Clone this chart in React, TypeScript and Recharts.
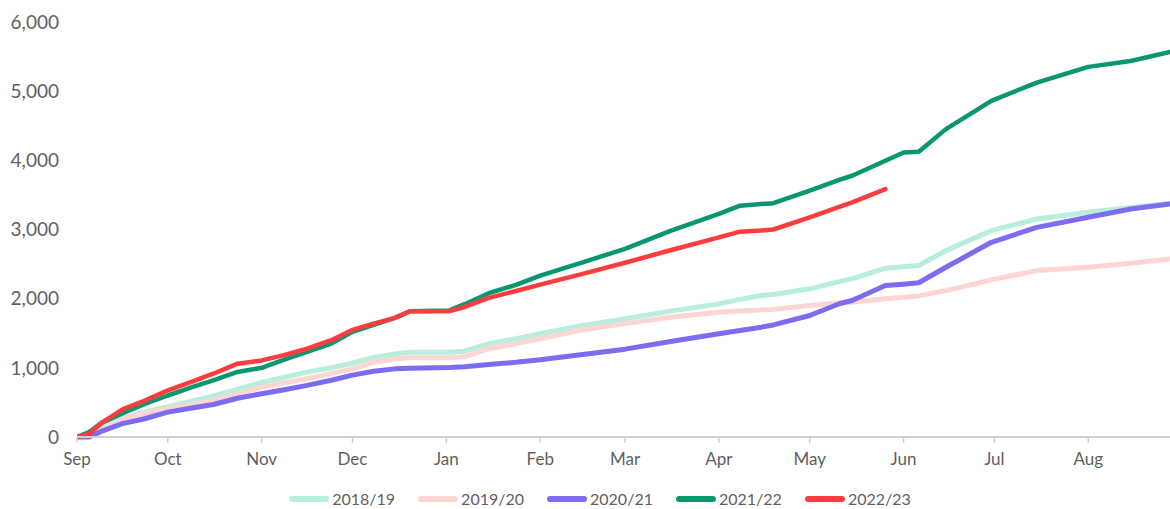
import { LineChart, Line, XAxis, YAxis, Legend } from 'recharts';

// days since 1 September
const days = [
  0, 4, 8, 15, 22, 30, 38, 45, 53, 61, 68, 76, 84, 91, 98, 105, 110, 123, 128, 136, 145,
  153, 167, 181, 196, 212, 219, 226, 230, 242, 252, 256, 267, 273, 278, 287, 302, 317, 334, 348, 361,
];

const season1819 = [
  0, 30, 120, 265, 360, 440, 520, 590, 690, 790, 860, 938, 1000, 1070, 1150, 1200, 1227, 1227, 1240, 1348, 1420,
  1492, 1612, 1709, 1820, 1925, 1990, 2045, 2060, 2142, 2250, 2286, 2440, 2460, 2480, 2695, 2984, 3152, 3248, 3320, 3378,
];
const season1920 = [
  0, 20, 100, 250, 340, 410, 470, 530, 620, 722, 780, 843, 920, 985, 1080, 1130, 1146, 1146, 1160, 1276, 1350,
  1420, 1550, 1640, 1730, 1804, 1820, 1838, 1845, 1901, 1940, 1949, 2000, 2021, 2040, 2117, 2272, 2406, 2454, 2512, 2575,
];
const season2021 = [
  0, 0, 80, 193, 260, 360, 420, 470, 560, 626, 680, 746, 820, 895, 950, 985, 995, 1005, 1015, 1049, 1080,
  1117, 1194, 1270, 1380, 1492, 1540, 1588, 1620, 1757, 1930, 1973, 2190, 2210, 2230, 2454, 2815, 3031, 3176, 3297, 3369,
];
const season2122 = [
  0, 70, 200, 340, 470, 600, 720, 820, 940, 1000, 1110, 1230, 1350, 1520, 1620, 1723, 1819, 1830, 1920, 2079, 2200,
  2334, 2526, 2720, 2980, 3225, 3344, 3369, 3380, 3561, 3720, 3777, 3994, 4114, 4124, 4451, 4860, 5124, 5351, 5437, 5567,
];
// current season, runs to late May
const season2223 = [
  0, 40, 200, 400, 520, 674, 800, 915, 1060, 1107, 1180, 1276, 1400, 1550, 1640, 1723, 1819, 1819, 1880, 2012, 2110,
  2204, 2358, 2520, 2700, 2887, 2969, 2984, 3000, 3176, 3330, 3392, 3585,
];

const monthTicks = [0, 30, 61, 91, 122, 153, 181, 212, 242, 273, 303, 334];
const monthLabels = ['Sep', 'Oct', 'Nov', 'Dec', 'Jan', 'Feb', 'Mar', 'Apr', 'May', 'Jun', 'Jul', 'Aug'];
const yTicks = [0, 1000, 2000, 3000, 4000, 5000, 6000];

const series = [
  { key: 's1819', name: '2018/19', color: '#b8eedb', width: 5, values: season1819 },
  { key: 's1920', name: '2019/20', color: '#fdd5d2', width: 5, values: season1920 },
  { key: 's2021', name: '2020/21', color: '#7b6cf0', width: 5, values: season2021 },
  { key: 's2122', name: '2021/22', color: '#0a9770', width: 4.5, values: season2122 },
  { key: 's2223', name: '2022/23', color: '#fb3d3f', width: 4.5, values: season2223 },
];

const rows = days.map((day, i) => {
  const row: Record<string, number | undefined> = { day };
  series.forEach((s) => {
    row[s.key] = s.values[i];
  });
  return row;
});

const textColor = '#5f5f5f';
const font = 'Lato, "Open Sans", sans-serif';

function LegendContent() {
  return (
    <div style={{ display: 'flex', justifyContent: 'center', gap: 23, paddingLeft: 30, paddingTop: 6 }}>
      {series.map((s) => (
        <div key={s.key} style={{ display: 'flex', alignItems: 'center' }}>
          <span style={{ width: 40, height: 6, borderRadius: 3, background: s.color, display: 'inline-block' }} />
          <span style={{ marginLeft: 3, fontSize: 16, color: textColor, fontFamily: font }}>{s.name}</span>
        </div>
      ))}
    </div>
  );
}

export default function App() {
  return (
    <div style={{ position: 'absolute', left: 0, top: 0, width: 1170, height: 509, background: '#fff' }}>
      <LineChart width={1170} height={509} data={rows} margin={{ top: 22, right: 0, left: 0, bottom: 0 }}>
        <XAxis
          dataKey="day"
          type="number"
          domain={[0, 361]}
          ticks={monthTicks}
          tickFormatter={(v) => monthLabels[monthTicks.indexOf(v)] ?? ''}
          height={46}
          tickSize={6}
          tickMargin={10}
          axisLine={{ stroke: '#d0d0d0', strokeWidth: 2 }}
          tickLine={{ stroke: '#d0d0d0', strokeWidth: 1.5 }}
          tick={{ fill: textColor, fontSize: 17, fontFamily: font }}
          allowDataOverflow
        />
        <YAxis
          width={77}
          domain={[0, 6000]}
          ticks={yTicks}
          tickFormatter={(v) => v.toLocaleString('en-US')}
          axisLine={false}
          tickLine={false}
          tickSize={0}
          tickMargin={18}
          tick={{ fill: textColor, fontSize: 19, fontFamily: font }}
        />
        <Legend verticalAlign="bottom" height={26} content={<LegendContent />} />
        {series.map((s) => (
          <Line
            key={s.key}
            dataKey={s.key}
            name={s.name}
            type="linear"
            stroke={s.color}
            strokeWidth={s.width}
            dot={false}
            activeDot={false}
            strokeLinejoin="round"
            strokeLinecap="round"
            isAnimationActive={false}
          />
        ))}
      </LineChart>
    </div>
  );
}
